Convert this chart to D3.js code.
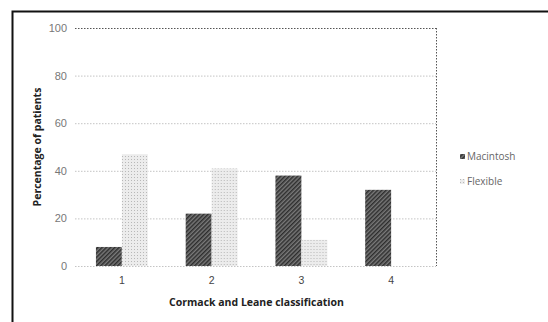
<!DOCTYPE html>
<html>
<head>
<meta charset="utf-8">
<script src="https://cdn.jsdelivr.net/npm/d3@7"></script>
<style>
  body { margin: 0; background: #fff; }
  svg { display: block; font-family: "Open Sans", "Liberation Sans", sans-serif; }
</style>
</head>
<body>
<div id="chart"></div>
<script>
const classes = ["1", "2", "3", "4"];
const seriesNames = ["Macintosh", "Flexible"];
const macintosh = [8, 22, 38, 32];
const flexible = [47, 41, 11, 0];
const yTicks = [0, 20, 40, 60, 80, 100];

const W = 548, H = 322;
const margin = { left: 77, right: 112, top: 28, bottom: 56 };

const svg = d3.select("#chart").append("svg")
  .attr("width", W).attr("height", H);

// fill patterns
const defs = svg.append("defs");
const hatch = defs.append("pattern")
  .attr("id", "hatch").attr("patternUnits", "userSpaceOnUse")
  .attr("width", 3).attr("height", 3)
  .attr("patternTransform", "rotate(45)");
hatch.append("rect").attr("width", 3).attr("height", 3).attr("fill", "#7a7a7a");
hatch.append("rect").attr("width", 1.5).attr("height", 3).attr("fill", "#2e2e2e");

const dots = defs.append("pattern")
  .attr("id", "dots").attr("patternUnits", "userSpaceOnUse")
  .attr("width", 3).attr("height", 3);
dots.append("rect").attr("width", 3).attr("height", 3).attr("fill", "#ececec");
dots.append("rect").attr("width", 1).attr("height", 1).attr("fill", "#b8b8b8");

const fills = { Macintosh: "url(#hatch)", Flexible: "url(#dots)" };

// outer frame
svg.append("rect")
  .attr("x", 12.5).attr("y", 11.5)
  .attr("width", 545).attr("height", 320)
  .attr("fill", "none").attr("stroke", "#111").attr("stroke-width", 2);

const x = d3.scaleBand().domain(classes)
  .range([margin.left, W - margin.right]);
const xInner = d3.scaleBand().domain(seriesNames)
  .range([0, x.bandwidth()]).paddingOuter(0.73).paddingInner(0);
const y = d3.scaleLinear().domain([0, 100])
  .range([H - margin.bottom, margin.top]);

// grid lines
svg.append("g").selectAll("line")
  .data(yTicks)
  .join("line")
  .attr("x1", margin.left - 2).attr("x2", W - margin.right)
  .attr("y1", d => y(d) + 0.5).attr("y2", d => y(d) + 0.5)
  .attr("stroke", d => d === 100 ? "#555" : "#c4c4c4")
  .attr("stroke-width", 1)
  .attr("stroke-dasharray", "1.5,1.5");

// right dotted border of plot area
svg.append("line")
  .attr("x1", W - margin.right + 0.5).attr("x2", W - margin.right + 0.5)
  .attr("y1", y(100)).attr("y2", y(0))
  .attr("stroke", "#555").attr("stroke-dasharray", "1.5,1.5");

// bars
const rows = classes.map((c, i) => ({ c, Macintosh: macintosh[i], Flexible: flexible[i] }));
svg.append("g").selectAll("g")
  .data(rows)
  .join("g")
  .attr("transform", d => `translate(${x(d.c)},0)`)
  .selectAll("rect")
  .data(d => seriesNames.map(k => ({ k, v: d[k] })))
  .join("rect")
  .attr("x", d => xInner(d.k))
  .attr("width", xInner.bandwidth())
  .attr("y", d => y(d.v))
  .attr("height", d => y(0) - y(d.v))
  .attr("fill", d => fills[d.k]);

// y axis labels
const yAxis = svg.append("g")
  .attr("transform", `translate(${margin.left},0)`)
  .call(d3.axisLeft(y).tickValues(yTicks).tickSize(0).tickPadding(10));
yAxis.select(".domain").remove();
yAxis.selectAll("text").attr("font-size", 11).attr("fill", "#777");

// x axis labels
const xAxis = svg.append("g")
  .attr("transform", `translate(0,${y(0)})`)
  .call(d3.axisBottom(x).tickSize(0).tickPadding(11));
xAxis.select(".domain").remove();
xAxis.selectAll("text").attr("font-size", 10.5).attr("fill", "#444");

// titles
svg.append("text")
  .attr("transform", `translate(41,${(y(0) + y(100)) / 2}) rotate(-90)`)
  .attr("text-anchor", "middle")
  .attr("font-size", 10.5).attr("font-weight", "bold").attr("fill", "#222")
  .text("Percentage of patients");

svg.append("text")
  .attr("x", (margin.left + W - margin.right) / 2)
  .attr("y", 306)
  .attr("text-anchor", "middle")
  .attr("font-size", 10.5).attr("font-weight", "bold").attr("fill", "#222")
  .text("Cormack and Leane classification");

// legend
const legend = svg.append("g").attr("transform", "translate(460,160)");
legend.selectAll("g")
  .data(seriesNames)
  .join("g")
  .attr("transform", (d, i) => `translate(0,${i * 25})`)
  .call(g => {
    g.append("rect").attr("x", 0).attr("y", -6).attr("width", 5).attr("height", 5)
      .attr("fill", d => fills[d]);
    g.append("text").attr("x", 7).attr("y", 0)
      .attr("font-size", 10).attr("fill", "#666")
      .text(d => d);
  });
</script>
</body>
</html>
